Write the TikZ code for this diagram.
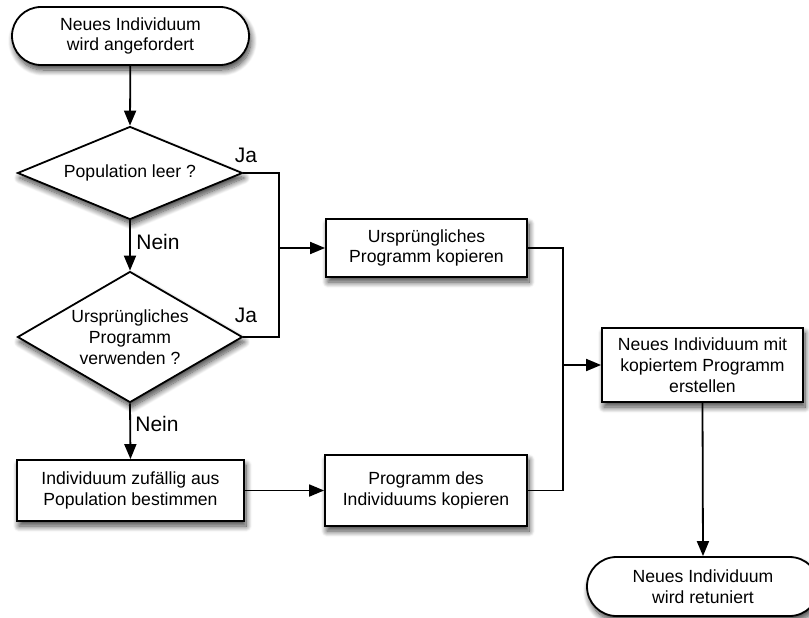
\documentclass[tikz,border=0pt]{standalone}
\usepackage{fontspec}
\setmainfont{Liberation Sans}
\usetikzlibrary{shapes.geometric,shapes.misc,arrows.meta,shadows.blur}
\begin{document}
\begin{tikzpicture}[x=1pt,y=-1pt,
  line width=1.8pt,
  shade/.style={blur shadow={shadow xshift=2pt,shadow yshift=-5pt,shadow blur radius=6pt,shadow blur steps=12,shadow opacity=75}},
  txt/.style={font=\fontsize{17.6}{20.8}\selectfont,align=center},
  terminal/.style={rounded rectangle,draw,fill=white,shade,txt,inner sep=0pt},
  stepbox/.style={rectangle,draw,fill=white,shade,txt,inner sep=0pt},
  decision/.style={diamond,draw,fill=white,shade,inner sep=0pt},
  inlabel/.style={txt},
  answer/.style={font=\fontsize{21}{24}\selectfont,inner sep=0pt},
  arr/.style={-{Triangle[length=15pt,width=12pt]}}
]
\useasboundingbox (0,0) rectangle (809,618);
\clip (0,0) rectangle (809,618);

% terminals, decisions and actions
\node[terminal,minimum width=237pt,minimum height=58pt] (start) at (130.5,36) {Neues Individuum\\wird angefordert};
\node[decision,minimum width=225pt,minimum height=93pt] (d1) at (130,173) {};
\node[inlabel] (d1t) at (d1.center) {Population leer ?};
\node[decision,minimum width=225pt,minimum height=131pt] (d2) at (130,337) {};
\node[inlabel] (d2t) at (d2.center) {Ursprüngliches\\Programm\\verwenden ?};
\node[stepbox,minimum width=227pt,minimum height=61pt] (pick) at (130.5,490.5) {Individuum zufällig aus\\Population bestimmen};
\node[stepbox,minimum width=202pt,minimum height=71pt] (copyind) at (426,490.5) {Programm des\\Individuums kopieren};
\node[stepbox,minimum width=201pt,minimum height=58pt] (copyorig) at (426.5,248) {Ursprüngliches\\Programm kopieren};
\node[stepbox,minimum width=201pt,minimum height=74pt] (create) at (702.5,365) {Neues Individuum mit\\kopiertem Programm\\erstellen};
\node[terminal,minimum width=232pt,minimum height=59pt] (finish) at (703,586.5) {Neues Individuum\\wird retuniert};

% branch labels
\node[answer] (ja1) at (246,155) {Ja};
\node[answer] (ja2) at (246,315) {Ja};
\node[answer] (nein1) at (158,242) {Nein};
\node[answer] (nein2) at (157,424) {Nein};

% junction points
\coordinate (jleft) at (279,248);
\coordinate (jright) at (563,365);

% connectors
\draw[arr] (start) -- (d1.north);
\draw[arr] (d1.south) -- (d2.north);
\draw[arr] (d2.south) -- (pick.north);
\draw (d1.east) -| (jleft) |- (d2.east);
\draw[arr] (jleft) -- (copyorig.west);
\draw[arr] (pick.east) -- (copyind.west);
\draw (copyorig.east) -| (jright) |- (copyind.east);
\draw[arr] (jright) -- (create.west);
\draw[arr] (create.south) -- (finish.north);
\end{tikzpicture}
\end{document}
